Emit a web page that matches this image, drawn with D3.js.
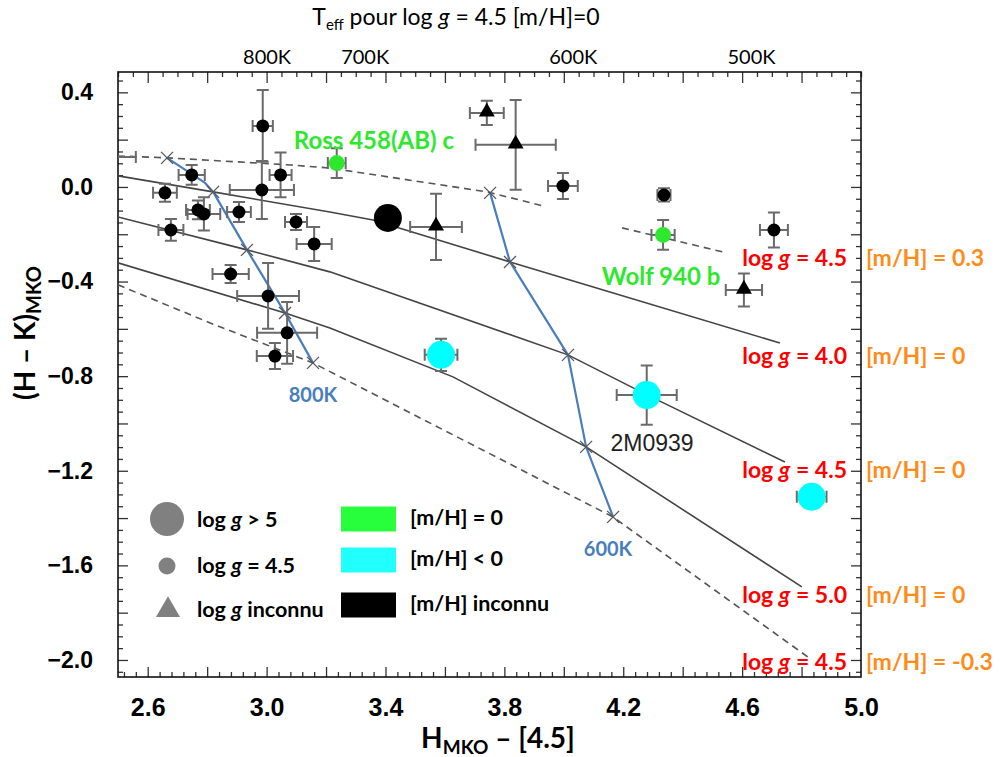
<!DOCTYPE html>
<html>
<head>
<meta charset="utf-8">
<script src="https://cdn.jsdelivr.net/npm/d3@7"></script>
<style>
  body { margin: 0; background: #fff; }
  svg { display: block; }
  .calib { font-family: Lato, "Open Sans", sans-serif; }
  .tick text { font-family: "Liberation Sans", Arial, sans-serif; font-weight: bold; fill: #000; }
</style>
</head>
<body>
<div id="chart"></div>
<script>
// ---- data ----
const xTicks = [2.6, 3.0, 3.4, 3.8, 4.2, 4.6, 5.0];
const yTicks = [0.4, 0.0, -0.4, -0.8, -1.2, -1.6, -2.0];
const teffLabels = ["800K", "700K", "600K", "500K"];
const teffAt = [3.0, 3.33, 4.03, 4.63];

// objects: H-[4.5], H-K, errors, log g class, [m/H] class
const objects = [
  { x: 2.987, y: 0.258, xe: 0.034, ye: 0.152, g: "4.5", m: "?" },
  { x: 2.748, y: 0.051, xe: 0.044, ye: 0.042, g: "4.5", m: "?" },
  { x: 3.047, y: 0.051, xe: 0.037, ye: 0.095, g: "4.5", m: "?" },
  { x: 2.658, y: -0.025, xe: 0.040, ye: 0.038, g: "4.5", m: "?" },
  { x: 2.984, y: -0.013, xe: 0.108, ye: 0.123, g: "4.5", m: "?" },
  { x: 2.769, y: -0.097, xe: 0.040, ye: 0.040, g: "4.5", m: "?" },
  { x: 2.789, y: -0.114, xe: 0.055, ye: 0.070, g: "4.5", m: "?" },
  { x: 2.907, y: -0.106, xe: 0.040, ye: 0.042, g: "4.5", m: "?" },
  { x: 3.099, y: -0.148, xe: 0.037, ye: 0.034, g: "4.5", m: "?" },
  { x: 3.160, y: -0.241, xe: 0.059, ye: 0.072, g: "4.5", m: "?" },
  { x: 2.678, y: -0.182, xe: 0.042, ye: 0.046, g: "4.5", m: "?" },
  { x: 2.879, y: -0.368, xe: 0.061, ye: 0.038, g: "4.5", m: "?" },
  { x: 3.005, y: -0.461, xe: 0.104, ye: 0.139, g: "4.5", m: "?" },
  { x: 3.069, y: -0.617, xe: 0.101, ye: 0.131, g: "4.5", m: "?" },
  { x: 3.028, y: -0.715, xe: 0.061, ye: 0.055, g: "4.5", m: "?" },
  { x: 3.997, y: 0.004, xe: 0.050, ye: 0.055, g: "4.5", m: "?" },
  { x: 4.337, y: -0.034, xe: 0.022, ye: 0.028, g: "4.5", m: "?" },
  { x: 4.707, y: -0.182, xe: 0.047, ye: 0.074, g: "4.5", m: "?" },
  { x: 2.470, y: 0.127, xe: 0.090, ye: 0, g: "4.5", m: "?" },
  { x: 3.408, y: -0.131, xe: 0, ye: 0, g: ">5", m: "?" },
  { x: 3.741, y: 0.313, xe: 0.057, ye: 0.051, g: "?", m: "?" },
  { x: 3.838, y: 0.178, xe: 0.135, ye: 0.190, g: "?", m: "?" },
  { x: 3.570, y: -0.169, xe: 0.087, ye: 0.140, g: "?", m: "?" },
  { x: 4.606, y: -0.436, xe: 0.061, ye: 0.070, g: "?", m: "?" },
  { x: 3.236, y: 0.101, xe: 0.030, ye: 0.063, g: "4.5", m: "0" },
  { x: 4.334, y: -0.203, xe: 0.039, ye: 0.063, g: "4.5", m: "0" },
  { x: 3.587, y: -0.710, xe: 0.055, ye: 0.068, g: ">5", m: "<0" },
  { x: 4.279, y: -0.880, xe: 0.101, ye: 0.125, g: ">5", m: "<0" },
  { x: 4.834, y: -1.310, xe: 0.050, ye: 0, g: ">5", m: "<0" }
];

// model sequences
const trackG40 = [[2.5, 0.047], [2.820, -0.021], [3.213, -0.106], [3.358, -0.140], [3.819, -0.317], [4.155, -0.444], [4.727, -0.660]];
const trackG45 = [[2.5, -0.127], [2.934, -0.266], [3.213, -0.359], [4.014, -0.710], [4.280, -0.879], [4.744, -1.163]];
const trackG50 = [[2.5, -0.321], [3.062, -0.533], [3.213, -0.596], [3.627, -0.803], [4.075, -1.099], [4.801, -1.691]];
const trackMetP3 = [[2.5, 0.131], [2.668, 0.123], [3.079, 0.093], [3.213, 0.080], [3.742, -0.021], [3.930, -0.080], null, [4.196, -0.173], [4.549, -0.279]];
const trackMetM3 = [[2.5, -0.414], [2.810, -0.575], [3.156, -0.744], [4.165, -1.395], [4.821, -1.987]];
const iso800 = [[2.665, 0.123], [2.793, 0.017], [2.820, -0.021], [2.934, -0.266], [3.062, -0.533], [3.156, -0.744]];
const iso600 = [[3.752, -0.025], [3.819, -0.317], [4.014, -0.710], [4.075, -1.099], [4.166, -1.395]];
const isoCross800 = [0, 2, 3, 4, 5];

const gLabels = ["4.5", "4.0", "4.5", "5.0", "4.5"];
const metLabels = ["0.3", "0", "0", "0", "-0.3"];
const labelY = [-0.300, -0.715, -1.197, -1.725, -2.008];

// ---- layout ----
const W = 1000, H = 757;
const L = 118, R = 861, T = 72, B = 677;

const x = d3.scaleLinear().domain([2.5, 5.0]).range([L, R]);
const y = d3.scaleLinear().domain([-2.072, 0.486]).range([B, T]);

const svg = d3.select("#chart").append("svg")
  .attr("width", W).attr("height", H);

svg.append("defs").append("clipPath").attr("id", "plot")
  .append("rect").attr("x", L).attr("y", T).attr("width", R - L).attr("height", B - T);

// ticks (inward, all four sides)
const rng = (a, b, s) => d3.range(Math.round(a / s), Math.round(b / s) + 1).map(i => +(i * s).toFixed(3));
const xMajor = rng(2.6, 4.8, 0.2);
const xMinorB = rng(2.52, 4.96, 0.04).filter(v => !xMajor.some(m => Math.abs(m - v) < 1e-6));
const xMinorT = rng(2.5, 5.0, 0.05).filter(v => !xMajor.some(m => Math.abs(m - v) < 1e-6));
const yMajor = rng(-2.0, 0.4, 0.2);
const yMinor = rng(-2.05, 0.45, 0.05).filter(v => !yMajor.some(m => Math.abs(m - v) < 1e-6));

function tickGroup(axis, tr) {
  const g = svg.append("g").attr("transform", tr).call(axis);
  g.select(".domain").remove();
  g.selectAll("line").attr("stroke", "#333").attr("stroke-width", 1.3);
  return g;
}
tickGroup(d3.axisTop(x).tickValues(xMajor).tickSize(10).tickFormat(""), `translate(0,${B})`);
tickGroup(d3.axisTop(x).tickValues(xMinorB).tickSize(5).tickFormat(""), `translate(0,${B})`);
tickGroup(d3.axisBottom(x).tickValues(xMajor).tickSize(11).tickFormat(""), `translate(0,${T})`);
tickGroup(d3.axisBottom(x).tickValues(xMinorT).tickSize(5).tickFormat(""), `translate(0,${T})`);
tickGroup(d3.axisRight(y).tickValues(yMajor).tickSize(10).tickFormat(""), `translate(${L},0)`);
tickGroup(d3.axisRight(y).tickValues(yMinor).tickSize(5).tickFormat(""), `translate(${L},0)`);
tickGroup(d3.axisLeft(y).tickValues(yMajor).tickSize(10).tickFormat(""), `translate(${R},0)`);
tickGroup(d3.axisLeft(y).tickValues(yMinor).tickSize(5).tickFormat(""), `translate(${R},0)`);

// tick labels
const xl = tickGroup(d3.axisBottom(x).tickValues(xTicks).tickSize(0).tickPadding(21).tickFormat(d3.format(".1f")), `translate(0,${B})`);
xl.selectAll("text").style("font-size", "25px");
const yl = tickGroup(d3.axisLeft(y).tickValues(yTicks).tickSize(0).tickPadding(25).tickFormat(d3.format(".1f")), `translate(${L},0)`);
yl.selectAll("text").style("font-size", "23px");
const tl = tickGroup(d3.axisTop(x).tickValues(teffAt).tickSize(0).tickPadding(8).tickFormat((d, i) => teffLabels[i]), `translate(0,${T})`);
tl.selectAll("text").style("font-family", "Lato, sans-serif").style("font-weight", "normal").style("font-size", "20px");

// frame
svg.append("rect").attr("x", L).attr("y", T).attr("width", R - L).attr("height", B - T)
  .attr("fill", "none").attr("stroke", "#111").attr("stroke-width", 1.6);

// ---- plot content ----
const plot = svg.append("g").attr("clip-path", "url(#plot)");
const line = d3.line().defined(d => d).x(d => x(d[0])).y(d => y(d[1]));

[trackG40, trackG45, trackG50].forEach(t => {
  plot.append("path").attr("d", line(t)).attr("fill", "none")
    .attr("stroke", "#444").attr("stroke-width", 1.6);
});
[trackMetP3, trackMetM3].forEach(t => {
  plot.append("path").attr("d", line(t)).attr("fill", "none")
    .attr("stroke", "#555").attr("stroke-width", 1.6).attr("stroke-dasharray", "7,5");
});

function isotherm(pts, crossIdx) {
  plot.append("path").attr("d", line(pts)).attr("fill", "none")
    .attr("stroke", "#4a7ebb").attr("stroke-width", 2.2).attr("stroke-linejoin", "round");
  plot.selectAll(null).data(crossIdx.map(i => pts[i])).join("path")
    .attr("transform", d => `translate(${x(d[0])},${y(d[1])})`)
    .attr("d", "M-6,-6L6,6M-6,6L6,-6")
    .attr("stroke", "#555").attr("stroke-width", 1.3);
}
isotherm(iso800, isoCross800);
isotherm(iso600, iso600.map((d, i) => i));

// error bars
const cap = 6;
const eb = plot.append("g").attr("stroke", "#6a6a6a").attr("stroke-width", 2).attr("fill", "none");
objects.forEach(d => {
  const cx = x(d.x), cy = y(d.y);
  if (d.xe > 0) {
    const x0 = x(d.x - d.xe), x1 = x(d.x + d.xe);
    eb.append("path").attr("d", `M${x0},${cy}H${x1}M${x0},${cy - cap}V${cy + cap}M${x1},${cy - cap}V${cy + cap}`);
  }
  if (d.ye > 0) {
    const y0 = y(d.y + d.ye), y1 = y(d.y - d.ye);
    eb.append("path").attr("d", `M${cx},${y0}V${y1}M${cx - cap},${y0}H${cx + cap}M${cx - cap},${y1}H${cx + cap}`);
  }
});

const fillOf = m => m === "0" ? "#2ee82e" : m === "<0" ? "#00ffff" : "#000";
const radiusOf = g => g === ">5" ? 14 : 6.5;
const markers = plot.append("g");
markers.selectAll("circle").data(objects.filter(d => d.g !== "?")).join("circle")
  .attr("cx", d => x(d.x)).attr("cy", d => y(d.y))
  .attr("r", d => radiusOf(d.g) + (d.m === "0" ? 1.5 : 0))
  .attr("fill", d => fillOf(d.m));
markers.selectAll("path").data(objects.filter(d => d.g === "?")).join("path")
  .attr("transform", d => `translate(${x(d.x)},${y(d.y) - 1})`)
  .attr("d", d3.symbol(d3.symbolTriangle, 110))
  .attr("fill", d => fillOf(d.m));

// ---- annotations ----
function txt(px, py, str, opts) {
  return svg.append("text").attr("x", px).attr("y", py).attr("dy", "0.35em")
    .attr("class", "calib").attr("font-weight", opts.bold ? "bold" : "normal")
    .attr("font-size", opts.size).attr("fill", opts.fill)
    .attr("text-anchor", opts.anchor || "middle").text(str);
}
txt(x(3.361), y(0.195), "Ross 458(AB) c", { bold: true, size: 24, fill: "#2ee82e" });
txt(x(4.327), y(-0.381), "Wolf 940 b", { bold: true, size: 24, fill: "#2ee82e" });
txt(x(4.297), y(-1.082), "2M0939", { size: 23, fill: "#222" })
  .attr("class", null).attr("font-family", "'Liberation Sans', Arial, sans-serif");
txt(x(3.156), y(-0.879), "800K", { bold: true, size: 20, fill: "#4a7ebb" });
txt(x(4.149), y(-1.531), "600K", { bold: true, size: 20, fill: "#4a7ebb" });

gLabels.forEach((g, i) => {
  const t = svg.append("text").attr("x", R - 14).attr("y", y(labelY[i])).attr("dy", "0.35em")
    .attr("class", "calib").attr("font-weight", "bold").attr("font-size", 23)
    .attr("fill", "#ff0000").attr("text-anchor", "end");
  t.append("tspan").text("log ");
  t.append("tspan").attr("font-style", "italic").text("g");
  t.append("tspan").text(" = " + g);
  svg.append("text").attr("x", R + 5).attr("y", y(labelY[i])).attr("dy", "0.35em")
    .attr("class", "calib").attr("font-weight", "bold").attr("font-size", 23)
    .attr("fill", "#ff8c1a").text("[m/H] = " + metLabels[i]);
});

// ---- legend ----
const leg = svg.append("g").attr("class", "calib").attr("font-weight", "bold").attr("font-size", 21.5);
leg.append("circle").attr("cx", 167).attr("cy", 519).attr("r", 17).attr("fill", "#808080");
leg.append("circle").attr("cx", 167).attr("cy", 566).attr("r", 8.5).attr("fill", "#808080");
leg.append("path").attr("transform", "translate(168,610)").attr("d", d3.symbol(d3.symbolTriangle, 250)).attr("fill", "#808080");
const gTexts = [[519, "> 5"], [565, "= 4.5"], [609, "inconnu"]];
gTexts.forEach(([py, s]) => {
  const t = leg.append("text").attr("x", 197).attr("y", py).attr("dy", "0.35em");
  t.append("tspan").text("log ");
  t.append("tspan").attr("font-style", "italic").text("g");
  t.append("tspan").text(" " + s);
});
const mItems = [[519, "#28ff3c", "[m/H] = 0"], [560, "#22ffff", "[m/H] < 0"], [605, "#000", "[m/H] inconnu"]];
mItems.forEach(([py, c, s]) => {
  leg.append("rect").attr("x", 341).attr("y", py - 12.5).attr("width", 55).attr("height", 25).attr("fill", c);
  leg.append("text").attr("x", 410).attr("y", py - 2).attr("dy", "0.35em").text(s);
});

// ---- axis titles ----
const xt = svg.append("text").attr("x", 498).attr("y", 748).attr("text-anchor", "middle")
  .attr("class", "calib").attr("font-weight", "bold").attr("font-size", 28);
xt.append("tspan").text("H");
xt.append("tspan").attr("font-size", 19).attr("dy", 6).text("MKO");
xt.append("tspan").attr("dy", -6).text(" \u2013 [4.5]");

const yt = svg.append("text").attr("transform", "translate(35,333) rotate(-90)").attr("text-anchor", "middle")
  .attr("class", "calib").attr("font-weight", "bold").attr("font-size", 28);
yt.append("tspan").text("(H \u2013 K)");
yt.append("tspan").attr("font-size", 20).attr("dy", 6).text("MKO");

const tt = svg.append("text").attr("x", 456).attr("y", 25).attr("text-anchor", "middle")
  .attr("class", "calib").attr("font-size", 23);
tt.append("tspan").text("T");
tt.append("tspan").attr("font-size", 15).attr("dy", 5).text("eff");
tt.append("tspan").attr("dy", -5).text(" pour log ");
tt.append("tspan").attr("font-style", "italic").text("g");
tt.append("tspan").text(" = 4.5 [m/H]=0");
</script>
</body>
</html>
